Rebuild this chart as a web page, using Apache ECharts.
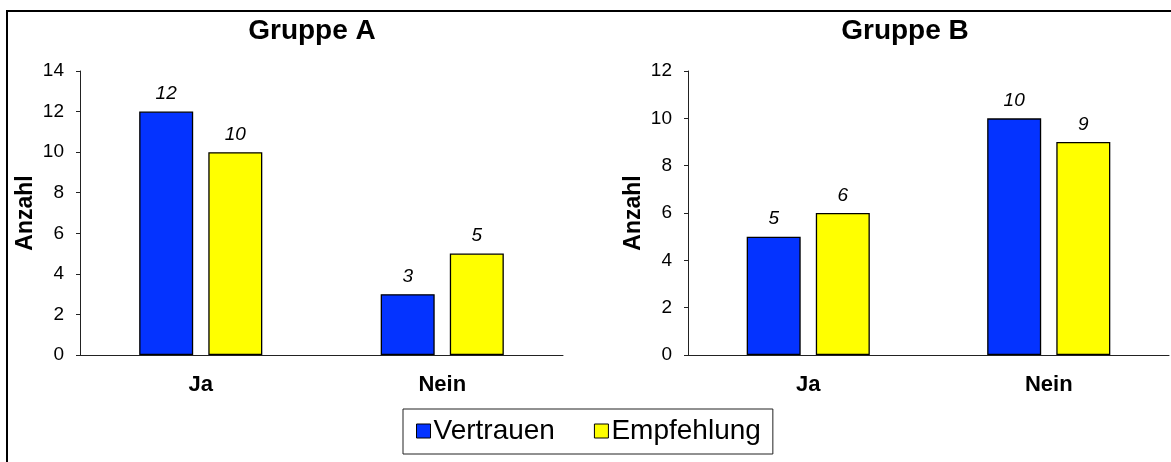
<!DOCTYPE html>
<html>
<head>
<meta charset="utf-8">
<script src="https://cdn.jsdelivr.net/npm/echarts@6/dist/echarts.min.js"></script>
<style>
  html, body { margin: 0; padding: 0; background: #fff; }
  #chart { width: 1171px; height: 462px; }
</style>
</head>
<body>
<div id="chart"></div>
<script>
// Kategorien und Werte je Gruppe
const categories = ['Ja', 'Nein'];
const seriesNames = ['Vertrauen', 'Empfehlung'];
const gruppeAVertrauen = [12, 3];
const gruppeAEmpfehlung = [10, 5];
const gruppeBVertrauen = [5, 10];
const gruppeBEmpfehlung = [6, 9];
const titles = ['Gruppe A', 'Gruppe B'];
const yMaxA = 14;
const yMaxB = 12;

const FONT = '"Liberation Sans", Arial, Helvetica, sans-serif';
const colors = ['#0433FF', '#FFFF00'];

const chart = echarts.init(document.getElementById('chart'));

function valueAxis(gridIndex, max) {
  return {
    type: 'value', gridIndex, min: 0, max, interval: 2,
    name: 'Anzahl', nameLocation: 'middle', nameRotate: 90, nameGap: 43,
    nameTextStyle: { fontFamily: FONT, fontWeight: 'bold', fontSize: 23, color: '#000' },
    axisLine: { show: true, lineStyle: { color: '#222', width: 1 } },
    axisTick: { show: true, length: 4, lineStyle: { color: '#222' } },
    axisLabel: { fontFamily: FONT, fontSize: 19, color: '#000', margin: 16 },
    splitLine: { show: false }
  };
}

function categoryAxis(gridIndex) {
  return {
    type: 'category', gridIndex, data: categories,
    axisLine: { show: true, lineStyle: { color: '#222', width: 1 } },
    axisTick: { show: false },
    axisLabel: { fontFamily: FONT, fontSize: 22, fontWeight: 'bold', color: '#000', margin: 19 }
  };
}

function barSeries(name, data, idx, colorIdx) {
  return {
    name, type: 'bar', xAxisIndex: idx, yAxisIndex: idx, data,
    barWidth: 54, barGap: '28%',
    itemStyle: { color: colors[colorIdx], borderColor: '#000', borderWidth: 1.3 },
    label: {
      show: true, position: 'top', distance: 8,
      fontFamily: FONT, fontSize: 19, fontStyle: 'italic', color: '#000'
    }
  };
}

chart.setOption({
  animation: false,
  backgroundColor: '#fff',
  grid: [
    { left: 80, right: 608, top: 71, bottom: 107 },
    { left: 688, right: 2, top: 71, bottom: 107 }
  ],
  xAxis: [categoryAxis(0), categoryAxis(1)],
  yAxis: [valueAxis(0, yMaxA), valueAxis(1, yMaxB)],
  legend: {
    data: seriesNames,
    left: 403, top: 409,
    orient: 'horizontal',
    icon: 'rect', itemWidth: 14, itemHeight: 14, itemGap: 39,
    padding: [8, 12, 9, 13],
    borderColor: '#222', borderWidth: 1,
    textStyle: { fontFamily: FONT, fontSize: 28, color: '#000', padding: [0, 0, 0, -2] },
    itemStyle: { borderColor: '#000', borderWidth: 1 }
  },
  series: [
    barSeries(seriesNames[0], gruppeAVertrauen, 0, 0),
    barSeries(seriesNames[1], gruppeAEmpfehlung, 0, 1),
    barSeries(seriesNames[0], gruppeBVertrauen, 1, 0),
    barSeries(seriesNames[1], gruppeBEmpfehlung, 1, 1)
  ],
  graphic: [
    {
      type: 'rect', silent: true,
      shape: { x: 7, y: 11, width: 1200, height: 500 },
      style: { fill: 'none', stroke: '#000', lineWidth: 2 }
    },
    {
      type: 'text', x: 312, y: 31,
      style: { text: titles[0], fontFamily: FONT, fontSize: 28, fontWeight: 'bold', fill: '#000',
               textAlign: 'center', textVerticalAlign: 'middle' }
    },
    {
      type: 'text', x: 905, y: 31,
      style: { text: titles[1], fontFamily: FONT, fontSize: 28, fontWeight: 'bold', fill: '#000',
               textAlign: 'center', textVerticalAlign: 'middle' }
    }
  ]
});
</script>
</body>
</html>
